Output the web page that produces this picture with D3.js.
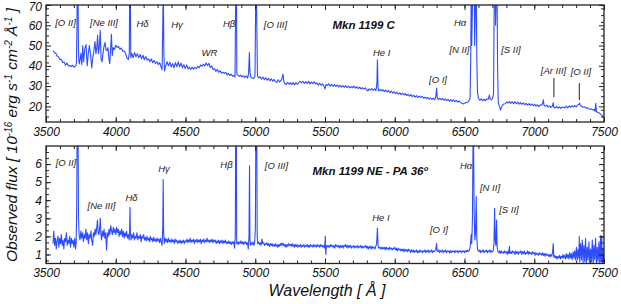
<!DOCTYPE html>
<html>
<head>
<meta charset="utf-8">
<script src="https://cdn.jsdelivr.net/npm/d3@7"></script>
<style>
  body { margin: 0; background: #fff; }
  svg { display: block; }
  text { font-family: "Liberation Sans", Arial, sans-serif; }
</style>
</head>
<body>
<svg id="chart" width="621" height="304"></svg>
<script>
// wavelength ticks
const xMajor = [3500, 4000, 4500, 5000, 5500, 6000, 6500, 7000, 7500];
const topTicks = [20, 30, 40, 50, 60, 70];
const botTicks = [1, 2, 3, 4, 5, 6];

// Mkn 1199 C spectrum  [wavelength, flux]
const specC = [
  [3552,47.5],[3560,46.4],[3570,46.3],[3580,44.8],[3590,44.4],[3600,43.1],[3610,43.2],[3620,41.6],[3630,41.9],[3640,40.3],
  [3650,41.4],[3660,40.0],[3670,40.2],[3680,39.6],[3690,40.3],[3700,39.4],[3710,39.8],[3718,41.0],[3722,60],[3725,90],
  [3729,90],[3732,50],[3736,42],[3740,41],[3750,46],[3757,40.5],[3763,50],[3770,42],[3778,48.5],[3787,50.5],
  [3795,40],[3803,46],[3811,50],[3820,45],[3828,39],[3835,44],[3843,47],[3851,52],[3858,46],[3864,49],
  [3870,55],[3876,46],[3883,50],[3889,57.5],[3895,43],[3902,42],[3910,47],[3917,50],[3923,51.5],[3930,48],
  [3937,47.5],[3944,49],[3950,44],[3957,41],[3963,48],[3969,55.5],[3975,45],[3982,49],[3990,48],[4000,50.2],
  [4010,49],[4020,49.6],[4030,48.2],[4040,48.8],[4050,47.2],[4060,47.4],[4070,46.2],[4080,44],[4090,43],[4097,46],
  [4100,80],[4104,80],[4108,44],[4115,46.2],[4125,44],[4135,46.5],[4145,44.5],[4155,46],[4165,44],[4175,45.6],
  [4185,43.5],[4195,45.2],[4205,43],[4215,44.6],[4225,42.8],[4235,43.5],[4245,42],[4255,43.4],[4265,41.5],[4275,42.6],
  [4285,41.2],[4295,42],[4305,40.6],[4315,41.6],[4325,39.5],[4332,38],[4337,60],[4341,80],[4345,45],[4350,37.5],
  [4358,40],[4368,42],[4378,40],[4388,41.8],[4398,39.4],[4408,41.2],[4418,39],[4428,41.6],[4438,39.5],[4448,42],
  [4458,39.5],[4468,41.4],[4478,39],[4488,40.6],[4498,38.6],[4508,40.5],[4518,38.5],[4528,39.4],[4538,38.2],[4548,39.4],
  [4558,38.3],[4568,39.2],[4578,38.6],[4588,39.8],[4598,39],[4608,40.4],[4618,39.8],[4628,40.8],[4638,40],[4648,41.4],
  [4658,40.2],[4668,41.2],[4678,39.2],[4688,40],[4698,38.2],[4708,38.6],[4718,37.2],[4728,38.2],[4738,36.8],[4748,37.6],
  [4758,36.4],[4768,36.9],[4778,36.2],[4788,36.8],[4798,35.5],[4808,36.3],[4818,35.2],[4828,35.9],[4838,34.9],[4848,35.2],
  [4855,34.5],[4858,60],[4861,85],[4865,85],[4868,36],[4875,35.4],[4885,34.8],[4895,35.4],[4905,34.6],[4915,35.1],
  [4925,34.2],[4935,35],[4945,34],[4952,36],[4958,46.5],[4962,37],[4968,34.5],[4978,34],[4988,33.8],[4998,35],
  [5003,70],[5007,90],[5011,60],[5016,35],[5025,34],[5035,34.6],[5045,33.4],[5055,34.5],[5065,33.2],[5075,34.1],
  [5085,32.9],[5095,33.8],[5105,32.6],[5115,33.6],[5125,32.4],[5135,33.3],[5145,32.2],[5155,31.8],[5165,33.1],[5175,32],
  [5185,32.8],[5193,34],[5199,36],[5204,32.5],[5212,31.3],[5222,30.7],[5232,31.9],[5242,30.9],[5252,31.7],[5262,30.7],
  [5272,31.8],[5282,30.6],[5292,31.6],[5302,30.8],[5312,31.8],[5322,32.4],[5332,31.6],[5342,32.4],[5352,31.3],[5362,32.2],
  [5372,31.3],[5382,32.4],[5392,31.1],[5402,32],[5412,31.2],[5422,32.1],[5432,31],[5442,31.6],[5452,30.5],[5462,31.4],
  [5472,30.4],[5482,31.1],[5492,30.1],[5500,28.6],[5508,30.8],[5518,30.3],[5528,31.2],[5538,30],[5548,30.9],[5558,29.9],
  [5568,30.7],[5578,29.8],[5588,30.6],[5598,29.6],[5608,30.4],[5618,29.5],[5628,30.3],[5638,29.4],[5648,30.2],[5658,29.3],
  [5668,30],[5678,29.1],[5688,29.8],[5698,29.2],[5708,30],[5718,29],[5728,29.7],[5738,28.8],[5748,29.5],[5758,28.6],
  [5768,29.2],[5778,28.5],[5788,29.1],[5798,28.2],[5808,27.6],[5815,28.6],[5825,28.1],[5835,28.8],[5845,27.9],[5855,28.6],
  [5865,27.8],[5872,31],[5876,43],[5880,29],[5886,27.6],[5896,28.4],[5906,27.6],[5916,28.2],[5926,27.3],[5936,28],
  [5946,27.1],[5956,27.8],[5966,26.8],[5976,27.5],[5986,26.5],[5996,27.2],[6006,26.3],[6016,27],[6026,26],[6036,26.7],
  [6046,25.8],[6056,26.5],[6066,25.6],[6076,26.3],[6086,25.3],[6096,26],[6106,25.1],[6116,25.8],[6126,24.8],[6136,25.5],
  [6146,24.6],[6156,25.3],[6166,24.4],[6176,25.1],[6186,24.3],[6196,24.9],[6206,24],[6216,24.6],[6226,23.8],[6236,24.5],
  [6246,23.6],[6256,24.2],[6266,23.4],[6276,24.1],[6286,23.3],[6294,24.5],[6300,29],[6305,24],[6312,23.4],[6322,24.1],
  [6332,23.3],[6342,23.9],[6352,23],[6362,23.7],[6372,22.8],[6382,23.5],[6392,22.6],[6402,23.3],[6412,22.5],[6422,23.2],
  [6432,22.3],[6442,23],[6452,22.1],[6462,22.7],[6472,21.8],[6482,21.6],[6492,21.2],[6500,21.5],[6510,21.8],[6520,22],
  [6530,22.5],[6540,24],[6545,45],[6548,80],[6552,50],[6557,70],[6563,95],[6568,90],[6573,50],[6579,70],
  [6584,85],[6588,45],[6593,27],[6600,24],[6610,23],[6620,23.7],[6630,22.8],[6640,23.5],[6650,22.9],[6660,23.6],
  [6670,23.5],[6678,25.6],[6684,23.6],[6692,23.2],[6700,23.8],[6708,26],[6714,80],[6718,90],[6723,60],[6728,80],
  [6732,90],[6737,40],[6742,22],[6750,20],[6758,18.2],[6765,19.5],[6772,20.5],[6782,21.2],[6792,21.3],[6802,22.2],
  [6812,21.6],[6822,22.4],[6832,21.5],[6842,22.3],[6852,21.4],[6862,22.2],[6872,21.3],[6882,22.1],[6892,21.1],[6902,21.9],
  [6912,21],[6922,21.7],[6932,20.8],[6942,21.5],[6952,20.6],[6962,21.4],[6972,20.5],[6982,21.2],[6992,20.3],[7002,21.1],
  [7012,20.1],[7022,20.8],[7032,19.9],[7042,20.6],[7052,20.6],[7060,21.5],[7065,23.2],[7070,20.6],[7080,20],[7090,20.6],
  [7100,19.6],[7110,20.3],[7120,19.4],[7130,20.1],[7136,21.8],[7140,19.6],[7150,19.2],[7160,20],[7170,19.1],[7180,19.8],
  [7190,19],[7200,19.7],[7210,19.6],[7220,19.2],[7230,20.1],[7240,19.3],[7250,20.2],[7260,19.5],[7270,20.4],[7280,19.7],
  [7290,20.5],[7300,19.8],[7310,20.7],[7320,21],[7325,21.6],[7330,20.4],[7340,20.1],[7350,19.6],[7360,19.8],[7370,19.2],
  [7380,19.4],[7390,18.8],[7400,18.5],[7410,18.8],[7420,18.2],[7430,18.5],[7436,17.5],[7441,21.5],[7446,17.5],[7455,17],
  [7465,16.8],[7475,16.2],[7485,15.6],[7492,15],[7500,14.5]
];

// Mkn 1199 NE spectrum  [wavelength, flux]
const specNE = [
  [3550,1.6],[3556,2.3],[3562,1.5],[3568,1.9],[3574,1.3],[3580,1.8],[3586,2.0],[3592,1.4],[3598,1.9],[3604,1.6],
  [3610,2.1],[3616,1.5],[3622,1.8],[3628,1.3],[3634,1.9],[3640,1.7],[3646,2.2],[3652,1.5],[3658,1.8],[3664,1.6],
  [3670,2.0],[3676,1.4],[3682,1.9],[3688,1.6],[3694,1.8],[3700,1.4],[3706,1.9],[3712,1.3],[3716,1.6],[3720,3.5],
  [3724,9],[3729,9],[3733,3],[3738,2.0],[3744,1.8],[3750,2.3],[3756,1.9],[3762,2.2],[3768,1.7],[3774,2.1],
  [3780,1.9],[3786,2.4],[3792,1.8],[3798,2.2],[3804,1.6],[3810,2.1],[3816,1.9],[3822,2.3],[3828,1.8],[3834,1.5],
  [3840,2.2],[3846,2.0],[3852,2.4],[3858,2.1],[3864,2.5],[3869,2.9],[3874,2.2],[3880,2.1],[3886,2.6],[3889,3.0],
  [3893,2.2],[3898,1.8],[3904,2.3],[3910,2.0],[3916,2.4],[3922,1.9],[3928,2.2],[3934,1.25],[3940,2.2],[3946,2.0],
  [3952,2.4],[3958,2.1],[3964,2.6],[3970,2.3],[3976,2.1],[3982,2.5],[3988,2.2],[3994,2.4],[4000,2.1],[4006,2.5],
  [4012,2.2],[4018,2.4],[4024,2.0],[4030,2.3],[4036,2.1],[4042,2.4],[4048,2.0],[4054,2.3],[4060,1.9],[4066,2.2],
  [4072,2.0],[4078,2.3],[4084,1.9],[4090,2.1],[4096,1.8],[4099,2.3],[4102,3.6],[4105,2.2],[4110,1.8],[4116,2.1],
  [4122,1.9],[4128,2.2],[4134,1.8],[4140,2.0],[4146,1.9],[4152,2.2],[4158,1.8],[4164,2.0],[4170,1.9],[4176,2.1],
  [4182,1.7],[4188,2.0],[4194,1.9],[4200,2.1],[4206,1.8],[4212,1.95],[4218,1.75],[4224,2.0],[4230,1.8],[4236,1.9],
  [4242,1.7],[4248,2.0],[4254,1.8],[4260,1.9],[4266,1.7],[4272,1.95],[4278,1.75],[4284,1.85],[4290,1.7],[4296,1.9],
  [4302,1.75],[4308,1.85],[4314,1.65],[4320,1.9],[4326,1.7],[4332,1.5],[4337,2.5],[4340,5.15],[4343,2.3],[4348,1.6],
  [4354,1.9],[4360,1.7],[4366,1.85],[4372,1.65],[4378,1.9],[4384,1.7],[4390,1.8],[4396,1.65],[4402,1.85],[4408,1.7],
  [4414,1.8],[4420,1.6],[4426,1.85],[4432,1.7],[4438,1.8],[4444,1.6],[4450,1.75],[4456,1.65],[4462,1.8],[4468,1.6],
  [4474,1.75],[4480,1.65],[4486,1.8],[4492,1.6],[4498,1.75],[4504,1.7],[4510,1.85],[4516,1.65],[4522,1.8],[4528,1.7],
  [4534,1.9],[4540,1.65],[4546,1.8],[4552,1.7],[4558,1.85],[4564,1.6],[4570,1.8],[4576,1.7],[4582,1.85],[4588,1.65],
  [4594,1.8],[4600,1.7],[4606,1.85],[4612,1.6],[4618,1.8],[4624,1.7],[4630,1.85],[4636,1.65],[4642,1.8],[4648,1.7],
  [4654,1.9],[4660,1.7],[4666,1.8],[4672,1.65],[4678,1.8],[4684,1.7],[4690,1.85],[4696,1.65],[4702,1.8],[4708,1.7],
  [4714,1.8],[4720,1.6],[4726,1.75],[4732,1.65],[4738,1.8],[4744,1.6],[4750,1.75],[4756,1.65],[4762,1.8],[4768,1.6],
  [4774,1.75],[4780,1.65],[4786,1.8],[4792,1.6],[4798,1.7],[4804,1.6],[4810,1.75],[4816,1.6],[4822,1.7],[4828,1.55],
  [4834,1.7],[4840,1.6],[4846,1.7],[4852,1.35],[4857,2.0],[4860,9],[4864,9],[4867,1.6],[4872,1.7],[4878,1.55],
  [4884,1.7],[4890,1.6],[4896,1.75],[4902,1.6],[4908,1.7],[4914,1.55],[4920,1.7],[4926,1.6],[4932,1.7],[4938,1.55],
  [4944,1.65],[4950,1.3],[4955,2.0],[4959,5.9],[4962,1.8],[4966,1.5],[4972,1.65],[4978,1.55],[4984,1.7],[4990,1.5],
  [4996,1.65],[5001,2.5],[5005,9],[5010,9],[5014,2.0],[5018,1.6],[5024,1.7],[5030,1.55],[5036,1.65],[5042,1.5],
  [5048,1.85],[5054,1.6],[5060,1.65],[5066,1.5],[5072,1.6],[5078,1.55],[5084,1.65],[5090,1.5],[5096,1.6],[5102,1.45],
  [5108,1.6],[5114,1.5],[5120,1.6],[5126,1.45],[5132,1.55],[5138,1.45],[5144,1.6],[5150,1.45],[5156,1.55],[5162,1.4],
  [5168,1.55],[5174,1.45],[5180,1.6],[5186,1.5],[5192,1.65],[5198,1.5],[5204,1.6],[5210,1.45],[5216,1.55],[5222,1.4],
  [5228,1.55],[5234,1.45],[5240,1.6],[5246,1.5],[5252,1.55],[5258,1.45],[5264,1.6],[5270,1.45],[5276,1.55],[5282,1.4],
  [5288,1.55],[5294,1.45],[5300,1.55],[5306,1.4],[5312,1.5],[5318,1.45],[5324,1.55],[5330,1.4],[5336,1.5],[5342,1.45],
  [5348,1.55],[5354,1.4],[5360,1.5],[5366,1.45],[5372,1.55],[5378,1.4],[5384,1.5],[5390,1.4],[5396,1.55],[5402,1.45],
  [5408,1.5],[5414,1.4],[5420,1.55],[5426,1.45],[5432,1.5],[5438,1.4],[5444,1.55],[5450,1.45],[5456,1.5],[5462,1.4],
  [5468,1.55],[5474,1.45],[5480,1.5],[5486,1.4],[5492,1.5],[5498,1.35],[5502,2.0],[5506,1.0],[5510,1.45],[5516,1.5],
  [5522,1.4],[5528,1.5],[5534,1.4],[5540,1.55],[5546,1.45],[5552,1.5],[5558,1.4],[5564,1.5],[5570,1.35],[5576,1.55],
  [5582,1.45],[5588,1.5],[5594,1.4],[5600,1.5],[5606,1.35],[5612,1.5],[5618,1.4],[5624,1.5],[5630,1.35],[5636,1.5],
  [5642,1.45],[5648,1.55],[5654,1.4],[5660,1.5],[5666,1.35],[5672,1.5],[5678,1.4],[5684,1.5],[5690,1.35],[5696,1.45],
  [5702,1.4],[5708,1.5],[5714,1.35],[5720,1.45],[5726,1.4],[5732,1.5],[5738,1.35],[5744,1.45],[5750,1.4],[5756,1.5],
  [5762,1.35],[5768,1.45],[5774,1.35],[5780,1.45],[5786,1.4],[5792,1.5],[5798,1.35],[5804,1.45],[5810,1.3],[5816,1.45],
  [5822,1.35],[5828,1.45],[5834,1.3],[5840,1.45],[5846,1.35],[5852,1.4],[5858,1.3],[5864,1.45],[5870,1.6],[5876,2.45],
  [5880,1.5],[5886,1.35],[5892,1.4],[5898,1.3],[5904,1.4],[5910,1.3],[5916,1.4],[5922,1.3],[5928,1.4],[5934,1.25],
  [5940,1.4],[5946,1.3],[5952,1.35],[5958,1.25],[5964,1.4],[5970,1.3],[5976,1.35],[5982,1.25],[5988,1.35],[5994,1.3],
  [6000,1.4],[6006,1.25],[6012,1.35],[6018,1.2],[6024,1.35],[6030,1.25],[6036,1.3],[6042,1.2],[6048,1.3],[6054,1.2],
  [6060,1.3],[6066,1.15],[6072,1.3],[6078,1.2],[6084,1.25],[6090,1.15],[6096,1.3],[6102,1.2],[6108,1.25],[6114,1.1],
  [6120,1.25],[6126,1.15],[6132,1.25],[6138,1.1],[6144,1.2],[6150,1.15],[6156,1.25],[6162,1.1],[6168,1.2],[6174,1.1],
  [6180,1.25],[6186,1.15],[6192,1.2],[6198,1.1],[6204,1.2],[6210,1.15],[6216,1.25],[6222,1.1],[6228,1.2],[6234,1.15],
  [6240,1.25],[6246,1.1],[6252,1.2],[6258,1.15],[6264,1.25],[6270,1.1],[6276,1.2],[6282,1.15],[6288,1.2],[6294,1.25],
  [6300,1.62],[6304,1.2],[6310,1.15],[6316,1.25],[6322,1.1],[6328,1.2],[6334,1.15],[6340,1.25],[6346,1.1],[6352,1.2],
  [6358,1.15],[6364,1.25],[6370,1.1],[6376,1.2],[6382,1.15],[6388,1.2],[6394,1.1],[6400,1.2],[6406,1.1],[6412,1.2],
  [6418,1.15],[6424,1.2],[6430,1.1],[6436,1.2],[6442,1.15],[6448,1.2],[6454,1.1],[6460,1.2],[6466,1.15],[6472,1.2],
  [6478,1.1],[6484,1.2],[6490,1.15],[6496,1.2],[6502,1.1],[6508,1.2],[6514,1.15],[6520,1.25],[6526,1.15],[6532,1.2],
  [6538,1.3],[6543,1.6],[6548,2.1],[6552,1.6],[6557,3.0],[6561,7.2],[6565,7.2],[6569,3.5],[6574,1.8],[6579,2.2],
  [6584,4.2],[6588,2.0],[6593,1.3],[6598,1.2],[6604,1.15],[6610,1.25],[6616,1.1],[6622,1.2],[6628,1.15],[6634,1.25],
  [6640,1.1],[6646,1.2],[6652,1.15],[6658,1.25],[6664,1.1],[6670,1.2],[6676,1.15],[6682,1.25],[6688,1.1],[6694,1.2],
  [6700,1.15],[6706,1.2],[6711,1.6],[6716,3.55],[6720,1.8],[6725,1.5],[6730,2.9],[6734,1.4],[6740,1.15],[6746,1.1],
  [6752,1.2],[6758,1.05],[6764,1.2],[6770,1.1],[6776,1.15],[6782,1.05],[6788,1.2],[6794,1.1],[6800,1.15],[6806,1.0],
  [6812,1.2],[6818,1.05],[6822,1.45],[6826,1.05],[6832,1.15],[6838,1.05],[6844,1.2],[6850,1.1],[6856,1.15],[6862,1.0],
  [6868,1.2],[6874,1.05],[6880,1.15],[6886,1.0],[6892,1.15],[6898,1.1],[6904,1.2],[6910,1.0],[6916,1.15],[6922,1.05],
  [6928,1.2],[6934,1.0],[6940,1.1],[6946,1.05],[6952,1.2],[6958,1.0],[6964,1.15],[6970,1.05],[6976,1.1],[6982,1.0],
  [6988,1.15],[6994,1.05],[7000,1.1],[7006,0.95],[7012,1.1],[7018,1.0],[7024,1.05],[7030,0.95],[7036,1.1],[7042,1.0],
  [7048,1.05],[7054,0.95],[7060,1.1],[7066,0.95],[7072,1.05],[7078,0.9],[7084,1.05],[7090,0.95],[7096,1.0],[7102,0.9],
  [7108,1.0],[7114,0.85],[7120,1.0],[7126,0.9],[7132,1.2],[7136,1.6],[7140,0.85],[7146,0.95],[7152,0.8],[7158,0.9],
  [7164,0.75],[7170,0.9],[7176,0.8],[7182,0.95],[7188,0.75],[7194,0.9],[7200,0.8],[7206,1.0],[7212,0.8],[7218,0.95],
  [7224,0.75],[7230,1.05],[7236,0.8],[7242,1.0],[7248,0.75],[7254,1.1],[7260,0.8],[7266,1.05],[7272,0.7],[7278,1.15],
  [7284,0.8],[7290,1.2],[7296,0.7],[7302,1.4],[7308,0.7],[7314,1.3],[7320,0.8],[7323,2.0],[7326,0.6],[7332,1.6],
  [7338,0.7],[7344,1.8],[7350,0.55],[7356,1.5],[7362,0.6],[7368,1.9],[7374,0.5],[7380,1.4],[7386,0.7],[7392,1.7],
  [7398,0.5],[7404,1.3],[7410,0.6],[7416,1.8],[7422,0.45],[7428,1.5],[7434,0.7],[7440,1.9],[7446,0.45],[7452,1.4],
  [7458,0.6],[7464,1.7],[7470,0.5],[7476,2.05],[7480,0.6],[7484,2.0],[7488,0.4],[7494,1.3],[7500,0.5]
];

// line identifications: [text, wavelength, flux]
const labelsC = [
  ["[O II]", 3640, 59.6], ["[Ne III]", 3916, 59.5], ["H\u03b4", 4192, 59.1], ["H\u03b3", 4439, 58.6],
  ["WR", 4672, 44.8], ["H\u03b2", 4812, 59.1], ["[O III]", 5145, 58.6], ["He I", 5906, 44.8],
  ["H\u03b1", 6468, 59.6], ["[N II]", 6464, 46.3], ["[S II]", 6833, 46.3], ["[O I]", 6310, 31.7],
  ["[Ar III]", 7138, 35.9], ["[O II]", 7335, 35.4]
];
// marker ticks: [wavelength, flux from, flux to]
const markersC = [[7141, 34, 24.6], [7323, 31.5, 23.1]];

const labelsNE = [
  ["[O II]", 3643, 5.87], ["[Ne III]", 3898, 3.52], ["H\u03b4", 4113, 3.93], ["H\u03b3", 4346, 5.54],
  ["H\u03b2", 4794, 5.81], ["[O III]", 5152, 5.73], ["H\u03b1", 6511, 5.73], ["[N II]", 6683, 4.51],
  ["[S II]", 6819, 3.30], ["He I", 5901, 2.86], ["[O I]", 6317, 2.19]
];

const svg = d3.select("#chart");
const left = 46, right = 604;
const x = d3.scaleLinear().domain([3500, 7500]).range([left, right]);
const xMinor = d3.range(3500, 7501, 100);

const lineColor = "#2d4cff";

function panel(id, spec, y, ticks, minor, labels, title) {
  const [y0, y1] = y.range();
  const g = svg.append("g");

  g.append("clipPath").attr("id", "clip-" + id)
    .append("rect").attr("x", left).attr("y", y1)
    .attr("width", right - left).attr("height", y0 - y1);

  // spectrum
  const line = d3.line().x(d => x(d[0])).y(d => y(d[1]));
  g.append("path")
    .datum(spec)
    .attr("clip-path", `url(#clip-${id})`)
    .attr("fill", "none")
    .attr("stroke", lineColor)
    .attr("stroke-width", 1.1)
    .attr("stroke-linejoin", "round")
    .attr("d", line);

  // axes with inward ticks on all four sides
  const axes = [
    [d3.axisBottom(x), y0, xMajor, xMinor, true, "x"],
    [d3.axisTop(x), y1, xMajor, xMinor, false, "x"],
    [d3.axisLeft(y), left, ticks, minor, true, "y"],
    [d3.axisRight(y), right, ticks, minor, false, "y"]
  ];
  axes.forEach(([ax, pos, maj, mn, showLabels, dim]) => {
    const tr = dim === "x" ? `translate(0,${pos})` : `translate(${pos},0)`;
    g.append("g").attr("transform", tr)
      .call(ax.tickValues(mn).tickSizeInner(-3).tickSizeOuter(0).tickFormat(""))
      .call(s => s.select(".domain").remove());
    const a = g.append("g").attr("transform", tr)
      .call(ax.tickValues(maj).tickSizeInner(-5).tickSizeOuter(0)
        .tickPadding(dim === "x" ? 5 : 4)
        .tickFormat(showLabels ? d3.format("d") : ""));
    a.select(".domain").remove();
    a.selectAll("text")
      .attr("font-family", "Liberation Sans, Arial, sans-serif")
      .attr("font-style", "italic")
      .attr("font-size", 12)
      .attr("fill", "#111");
    // keep the top label inside the picture
    if (dim === "y") {
      a.selectAll("text").filter(d => y(d) < 8).attr("dy", "0.45em");
    }
  });
  g.selectAll(".tick line").attr("stroke", "#222");

  g.append("rect")
    .attr("x", left).attr("y", y1)
    .attr("width", right - left).attr("height", y0 - y1)
    .attr("fill", "none").attr("stroke", "#222").attr("stroke-width", 1.3);

  g.selectAll(".lbl")
    .data(labels)
    .join("text")
    .attr("x", d => x(d[1]))
    .attr("y", d => y(d[2]))
    .attr("text-anchor", "middle")
    .attr("font-style", "italic")
    .attr("font-size", 9.5)
    .attr("fill", "#222")
    .text(d => d[0]);

  g.append("text")
    .attr("x", x(title[1]))
    .attr("y", y(title[2]))
    .attr("text-anchor", "middle")
    .attr("font-style", "italic")
    .attr("font-weight", "bold")
    .attr("font-size", 11.5)
    .attr("fill", "#111")
    .text(title[0]);
  return g;
}

const yTop = d3.scaleLinear().domain([12.3, 70]).range([122, 5]);
const yBot = d3.scaleLinear().domain([0.5, 7]).range([263.5, 146]);

const gTop = panel("c", specC, yTop, topTicks, d3.range(15, 70.1, 10 / 3),
  labelsC, ["Mkn 1199 C", 5777, 58.2]);
gTop.selectAll(".mk")
  .data(markersC)
  .join("line")
  .attr("x1", d => x(d[0])).attr("x2", d => x(d[0]))
  .attr("y1", d => yTop(d[1])).attr("y2", d => yTop(d[2]))
  .attr("stroke", "#222").attr("stroke-width", 1);

panel("ne", specNE, yBot, botTicks, d3.range(2 / 3, 7, 1 / 3),
  labelsNE, ["Mkn 1199 NE - PA 36\u00ba", 5823, 5.37]);

// axis titles
svg.append("text")
  .attr("x", (left + right) / 2 + 2)
  .attr("y", 296)
  .attr("text-anchor", "middle")
  .attr("font-style", "italic")
  .attr("font-size", 16)
  .attr("fill", "#111")
  .text("Wavelength [ \u00c5 ]");

const yl = svg.append("text")
  .attr("transform", "translate(17,135) rotate(-90)")
  .attr("text-anchor", "middle")
  .attr("font-style", "italic")
  .attr("font-size", 15.5)
  .attr("fill", "#111");
const parts = [
  ["Observed flux [ 10", false], ["-16", true], [" erg s", false], ["-1", true],
  [" cm", false], ["-2", true], [" \u00c5", false], ["-1", true], [" ]", false]
];
parts.forEach(([t, sup]) => {
  const ts = yl.append("tspan").text(t);
  if (sup) ts.attr("font-size", 10).attr("baseline-shift", "55%");
});
</script>
</body>
</html>
